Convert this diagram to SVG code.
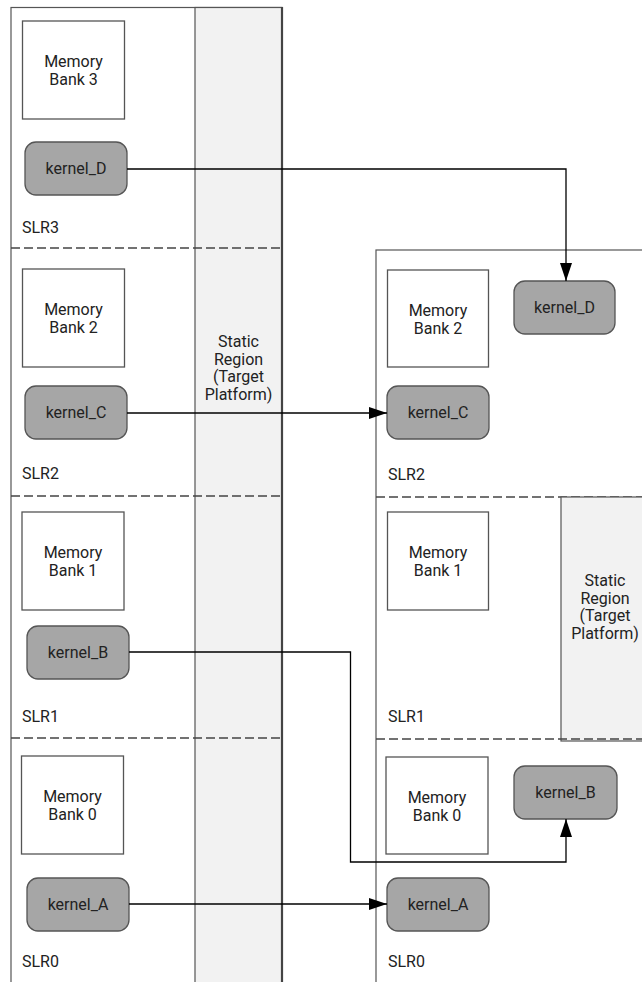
<svg xmlns="http://www.w3.org/2000/svg" width="642" height="982" viewBox="0 0 642 982">
<style>
text{font-family:Roboto,"Liberation Sans",sans-serif;font-size:16px;fill:#222}
.c{text-anchor:middle}
.chip{fill:#fff;stroke:#555;stroke-width:1.2}
.static{fill:#f2f2f2;stroke:#555;stroke-width:1.2}
.mem{fill:#fff;stroke:#555;stroke-width:1.3}
.ker{fill:#a6a6a6;stroke:#555;stroke-width:1.3}
.dash{stroke:#444;stroke-width:1.3;stroke-dasharray:9 4;fill:none}
.wire{stroke:#000;stroke-width:1.3;fill:none;marker-end:url(#arr)}
</style>
<defs>
<marker id="arr" viewBox="0 0 18 12" refX="18" refY="6" markerWidth="18" markerHeight="12" markerUnits="userSpaceOnUse" orient="auto">
<path d="M0,0 L18,6 L0,12 z" fill="#000"/>
</marker>
</defs>
<g id="left-chip">
<rect class="chip" x="11" y="7.5" width="271" height="1000"/>
<rect class="static" x="195" y="7.5" width="87" height="1000"/>
<line x1="282" y1="7" x2="282" y2="982" stroke="#444" stroke-width="2.2"/>
<text class="c" x="238.5" y="347">Static</text>
<text class="c" x="238.5" y="364.5">Region</text>
<text class="c" x="238.5" y="382">(Target</text>
<text class="c" x="238.5" y="399.5">Platform)</text>
<line class="dash" x1="11" y1="248" x2="281" y2="248"/>
<line class="dash" x1="11" y1="496" x2="281" y2="496"/>
<line class="dash" x1="11" y1="738" x2="281" y2="738"/>
<text x="22" y="233">SLR3</text>
<text x="22" y="479">SLR2</text>
<text x="22" y="722">SLR1</text>
<text x="22" y="967">SLR0</text>
</g>
<g id="right-chip">
<rect class="chip" x="376" y="250" width="300" height="760"/>
<line class="dash" x1="376" y1="497" x2="642" y2="497"/>
<rect class="static" x="561" y="497" width="100" height="244"/>
<line class="dash" x1="376" y1="739" x2="642" y2="739"/>
<text class="c" x="605" y="586">Static</text>
<text class="c" x="605" y="603.5">Region</text>
<text class="c" x="605" y="621">(Target</text>
<text class="c" x="605" y="638.5">Platform)</text>
<text x="388" y="480">SLR2</text>
<text x="388" y="722">SLR1</text>
<text x="388" y="967">SLR0</text>
</g>
<g id="mem3-left"><rect class="mem" x="22.5" y="21" width="102" height="98"/><text class="c" x="73.5" y="67">Memory</text><text class="c" x="73.5" y="85">Bank 3</text></g>
<g id="mem2-left"><rect class="mem" x="22.5" y="269" width="102" height="98"/><text class="c" x="73.5" y="315">Memory</text><text class="c" x="73.5" y="333">Bank 2</text></g>
<g id="mem1-left"><rect class="mem" x="22" y="512" width="102" height="98"/><text class="c" x="73" y="558">Memory</text><text class="c" x="73" y="576">Bank 1</text></g>
<g id="mem0-left"><rect class="mem" x="21.5" y="756" width="102" height="98"/><text class="c" x="72.5" y="802">Memory</text><text class="c" x="72.5" y="820">Bank 0</text></g>
<g id="mem2-right"><rect class="mem" x="387.5" y="270" width="101" height="97"/><text class="c" x="438" y="316">Memory</text><text class="c" x="438" y="334">Bank 2</text></g>
<g id="mem1-right"><rect class="mem" x="387.5" y="512" width="101" height="98"/><text class="c" x="438" y="558">Memory</text><text class="c" x="438" y="576">Bank 1</text></g>
<g id="mem0-right"><rect class="mem" x="386" y="757" width="102" height="97"/><text class="c" x="437" y="803">Memory</text><text class="c" x="437" y="821">Bank 0</text></g>
<g id="kD-left"><rect class="ker" x="25" y="142" width="102" height="53" rx="11"/><text class="c" x="76" y="174">kernel_D</text></g>
<g id="kC-left"><rect class="ker" x="25" y="386" width="102" height="53" rx="11"/><text class="c" x="76" y="418">kernel_C</text></g>
<g id="kB-left"><rect class="ker" x="27" y="626" width="102" height="53" rx="11"/><text class="c" x="78" y="658">kernel_B</text></g>
<g id="kA-left"><rect class="ker" x="27" y="878" width="102" height="53" rx="11"/><text class="c" x="78" y="910">kernel_A</text></g>
<g id="kD-right"><rect class="ker" x="514" y="281" width="101" height="53" rx="11"/><text class="c" x="564.5" y="313">kernel_D</text></g>
<g id="kC-right"><rect class="ker" x="387" y="386" width="102" height="53" rx="11"/><text class="c" x="438" y="418">kernel_C</text></g>
<g id="kB-right"><rect class="ker" x="514" y="766" width="103" height="53" rx="11"/><text class="c" x="565.5" y="798">kernel_B</text></g>
<g id="kA-right"><rect class="ker" x="387" y="878" width="102" height="53" rx="11"/><text class="c" x="438" y="910">kernel_A</text></g>
<g id="connectors">
<polyline class="wire" points="127,169 566,169 566,281"/>
<polyline class="wire" points="127,413 387,413"/>
<polyline class="wire" points="129,652 350.5,652 350.5,862 566,862 566,819"/>
<polyline class="wire" points="129,904 387,904"/>
</g>
</svg>
